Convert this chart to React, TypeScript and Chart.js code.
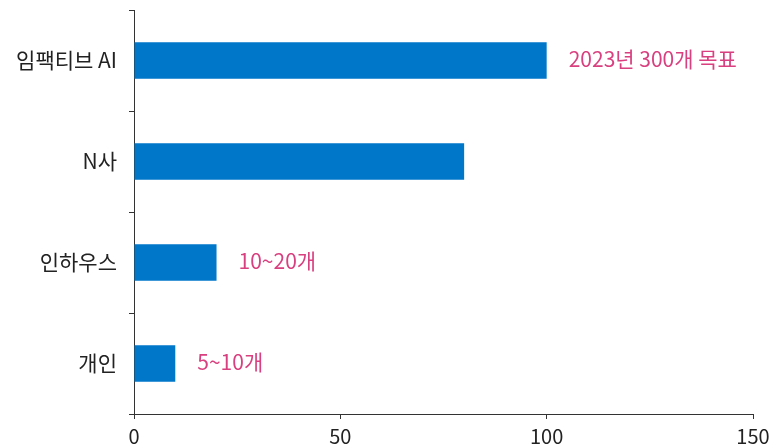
import React, { useEffect, useRef } from "react";
import { Chart, registerables } from "chart.js";

Chart.register(...registerables);

const categories = ["임팩티브 AI", "N사", "인하우스", "개인"];
const values = [100, 80, 20, 10];
const notes = ["2023년 300개 목표", "", "10~20개", "5~10개"];
const xTicks = [0, 50, 100, 150];

const FONT = "'Noto Sans CJK KR', 'Noto Sans', sans-serif";
const BAR = "#0077C8";
const PINK = "#D9407F";

const notePlugin = {
  id: "notes",
  afterDatasetsDraw(chart: any) {
    const ctx = chart.ctx;
    const meta = chart.getDatasetMeta(0);
    ctx.save();
    ctx.font = `21px ${FONT}`;
    ctx.fillStyle = PINK;
    ctx.textAlign = "left";
    ctx.textBaseline = "middle";
    meta.data.forEach((el: any, i: number) => {
      const t = notes[i];
      if (!t) return;
      ctx.fillText(t, el.x + 22, el.y - 1);
    });
    ctx.restore();
  },
};

export default function App() {
  const ref = useRef<HTMLCanvasElement>(null);
  useEffect(() => {
    const chart = new Chart(ref.current!, {
      type: "bar",
      data: {
        labels: categories,
        datasets: [
          {
            data: values,
            backgroundColor: BAR,
            categoryPercentage: 1,
            barPercentage: 0.36,
          },
        ],
      },
      options: {
        indexAxis: "y",
        animation: false,
        responsive: false,
        maintainAspectRatio: false,
        layout: { padding: { top: 10, right: 30, left: 0, bottom: 0 } },
        plugins: { legend: { display: false }, tooltip: { enabled: false } },
        scales: {
          x: {
            min: 0,
            max: 150,
            afterBuildTicks: (s: any) => {
              s.ticks = xTicks.map((v) => ({ value: v }));
            },
            afterFit: (s: any) => {
              s.height = 34;
            },
            border: { color: "#333", width: 1 },
            grid: { drawOnChartArea: false, drawTicks: true, tickLength: 5, color: "#333" },
            ticks: { color: "#222", font: { family: FONT, size: 20 }, padding: 5 },
          },
          y: {
            afterFit: (s: any) => {
              s.width = 134;
              s.paddingTop = 0;
              s.paddingBottom = 0;
            },
            border: { color: "#333", width: 1 },
            grid: { drawOnChartArea: false, drawTicks: true, tickLength: 5, color: "#333", offset: true },
            ticks: { color: "#222", font: { family: FONT, size: 21 }, padding: 12 },
          },
        },
      },
      plugins: [notePlugin],
    });
    return () => chart.destroy();
  }, []);
  return (
    <div style={{ position: "absolute", left: 0, top: 0, width: 783, height: 448, background: "#fff" }}>
      <canvas ref={ref} width={783} height={448} />
    </div>
  );
}
